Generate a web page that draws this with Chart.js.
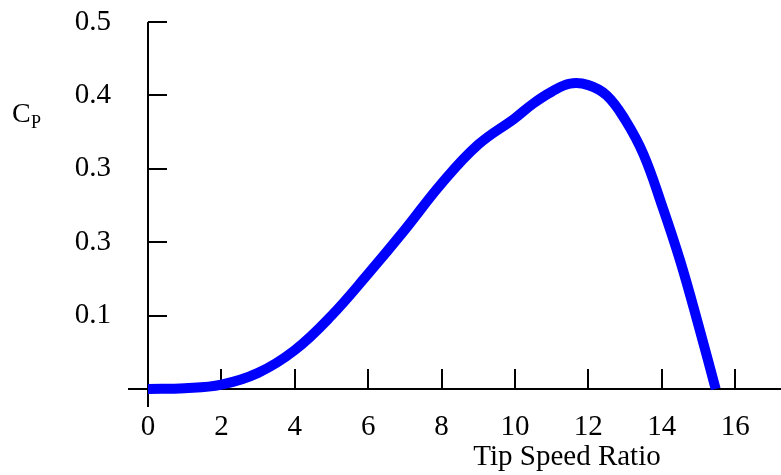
<!DOCTYPE html>
<html>
<head>
<meta charset="utf-8">
<script src="https://cdn.jsdelivr.net/npm/chart.js@4.4.1/dist/chart.umd.min.js"></script>
<style>
  html, body { margin: 0; padding: 0; background: #fff; }
  #wrap { width: 781px; height: 475px; position: relative; }
</style>
</head>
<body>
<div id="wrap"><canvas id="cp"></canvas></div>
<script>
// tip speed ratio and power coefficient
const tipSpeedRatio = [0, 1, 2, 3, 4, 5, 6, 7, 8, 9, 10, 10.5, 11, 11.5, 12, 12.5, 13, 13.5, 14, 14.5, 15, 15.47];
const cpValues = [0, 0.001, 0.006, 0.022, 0.053, 0.100, 0.157, 0.217, 0.280, 0.333, 0.369, 0.389, 0.405, 0.416, 0.414, 0.400, 0.367, 0.320, 0.251, 0.175, 0.087, 0];

// axis ticks (the original labels the 0.2 tick as "0.3")
const xTicks = [0, 2, 4, 6, 8, 10, 12, 14, 16];
const yTicks = [0, 0.1, 0.2, 0.3, 0.4, 0.5];
const yTickLabels = ["", "0.1", "0.3", "0.3", "0.4", "0.5"];

const xTitle = "Tip Speed Ratio";
const yTitle = "C";
const yTitleSub = "P";

const FONT = "'Liberation Serif', 'Times New Roman', serif";

// eigene Achsen: Striche nach innen, wie im Original
const axesPlugin = {
  id: "axes",
  beforeDatasetsDraw(chart) {
    const { ctx } = chart;
    const x = chart.scales.x, y = chart.scales.y;
    const x0 = Math.round(x.getPixelForValue(0));
    const y0 = Math.round(y.getPixelForValue(0));
    const yTop = Math.round(y.getPixelForValue(0.5));

    ctx.save();
    ctx.strokeStyle = "#000";
    ctx.lineWidth = 2;
    ctx.beginPath();
    ctx.moveTo(x0 - 20, y0);
    ctx.lineTo(chart.width, y0);
    ctx.moveTo(x0, yTop);
    ctx.lineTo(x0, y0 + 18);
    yTicks.forEach(v => {
      if (v > 0) {
        const py = Math.round(y.getPixelForValue(v));
        ctx.moveTo(x0, py);
        ctx.lineTo(x0 + 19, py);
      }
    });
    xTicks.forEach(v => {
      if (v > 0) {
        const px = Math.round(x.getPixelForValue(v));
        ctx.moveTo(px, y0);
        ctx.lineTo(px, y0 - 20);
      }
    });
    ctx.stroke();
    ctx.restore();
  },
  afterDraw(chart) {
    const { ctx } = chart;
    ctx.save();
    ctx.fillStyle = "#000";
    ctx.textBaseline = "alphabetic";
    // Achsentitel x
    ctx.font = "29px " + FONT;
    ctx.textAlign = "center";
    ctx.fillText(xTitle, 567, 465);
    // Achsentitel y: C mit tiefgestelltem P
    ctx.textAlign = "left";
    ctx.font = "28px " + FONT;
    ctx.fillText(yTitle, 12, 122);
    ctx.font = "18px " + FONT;
    ctx.fillText(yTitleSub, 31, 128);
    ctx.restore();
  }
};

const ctx = document.getElementById("cp").getContext("2d");

new Chart(ctx, {
  type: "line",
  data: {
    datasets: [{
      data: tipSpeedRatio.map((t, i) => ({ x: t, y: cpValues[i] })),
      borderColor: "#0000ff",
      borderWidth: 10,
      pointRadius: 0,
      fill: false,
      tension: 0.4,
      clip: false
    }]
  },
  options: {
    responsive: true,
    maintainAspectRatio: false,
    animation: false,
    events: [],
    layout: { padding: { top: 22, right: 0, left: 0, bottom: 0 } },
    plugins: { legend: { display: false }, tooltip: { enabled: false } },
    scales: {
      x: {
        type: "linear",
        min: 0,
        max: 17.25,
        grid: { display: false },
        border: { display: false },
        afterBuildTicks: scale => { scale.ticks = xTicks.map(v => ({ value: v })); },
        afterFit: scale => {
          scale.height = 86;
          scale.paddingLeft = 0;
          scale.paddingRight = 0;
        },
        ticks: {
          padding: 13,
          color: "#000",
          font: { family: FONT, size: 29 },
          maxRotation: 0,
          autoSkip: false
        }
      },
      y: {
        type: "linear",
        min: 0,
        max: 0.5,
        grid: { display: false },
        border: { display: false },
        afterBuildTicks: scale => { scale.ticks = yTicks.map(v => ({ value: v })); },
        afterFit: scale => {
          scale.width = 148;
          scale.paddingTop = 0;
          scale.paddingBottom = 0;
        },
        ticks: {
          padding: 29,
          color: "#000",
          font: { family: FONT, size: 29 },
          callback: (v, i) => yTickLabels[i]
        }
      }
    }
  },
  plugins: [axesPlugin]
});
</script>
</body>
</html>
